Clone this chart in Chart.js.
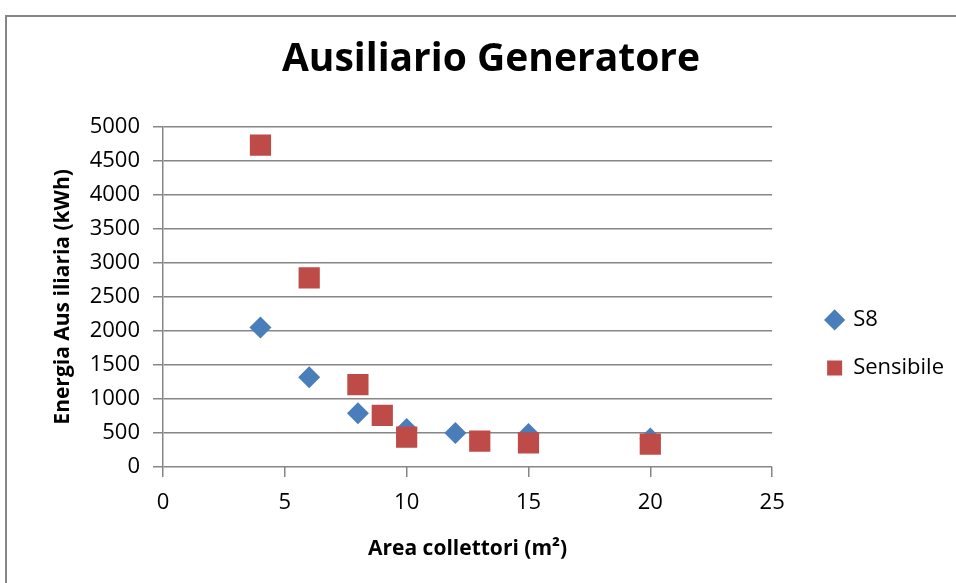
<!DOCTYPE html>
<html>
<head>
<meta charset="utf-8">
<script src="https://cdn.jsdelivr.net/npm/chart.js@4.4.0/dist/chart.umd.min.js"></script>
<style>
  body { margin: 0; background: #fff; overflow: hidden; }
  #frame { position: absolute; left: 5px; top: 15px; width: 1000px; height: 1000px; border: 2px solid #868686; }
  #wrap { position: absolute; left: 0; top: 0; width: 956px; height: 583px; }
</style>
</head>
<body>
<div id="frame"></div>
<div id="wrap"><canvas id="auxChart" width="956" height="583"></canvas></div>
<script>
var area_s8 = [4, 6, 8, 10, 12, 15, 20];
var en_s8 = [2050, 1320, 790, 560, 500, 485, 420];
var area_sens = [4, 6, 8, 9, 10, 13, 15, 20];
var en_sens = [4730, 2780, 1210, 760, 440, 380, 355, 335];
var x_ticks = [0, 5, 10, 15, 20, 25];
var y_ticks = [0, 500, 1000, 1500, 2000, 2500, 3000, 3500, 4000, 4500, 5000];

var font_name = "'Open Sans', sans-serif";

function to_points(xs, ys) {
    var items = [];
    var i = 0;
    while (i < xs.length) {
        items.push({"x": xs[i], "y": ys[i]});
        i = i + 1;
    }
    return items;
};

function plain_tick(value) {
    return String(value);
};

function draw_chart() {
    var ctx = document.getElementById("auxChart").getContext('2d');
    window.aux_chart = new Chart(ctx, {
        type: 'scatter',
        data: {
            datasets: [
                {
                    label: "S8",
                    data: to_points(area_s8, en_s8),
                    pointStyle: 'rectRot',
                    pointRadius: 11,
                    pointHoverRadius: 11,
                    backgroundColor: '#4A7EBB',
                    borderColor: '#4A7EBB',
                    borderWidth: 0,
                    order: 1
                },
                {
                    label: "Sensibile",
                    data: to_points(area_sens, en_sens),
                    pointStyle: 'rect',
                    pointRadius: 15,
                    pointHoverRadius: 15,
                    backgroundColor: '#BE4B48',
                    borderColor: '#BE4B48',
                    borderWidth: 0,
                    order: 0
                }
            ]
        },
        options: {
            responsive: false,
            animation: false,
            layout: { padding: { left: 28, right: 2, top: 0, bottom: 21 } },
            plugins: {
                tooltip: { enabled: false },
                title: {
                    display: true,
                    text: 'Ausiliario Generatore',
                    color: '#000',
                    font: { family: font_name, size: 39, weight: 'bold' },
                    padding: { top: 36, bottom: 44 }
                },
                legend: {
                    position: 'right',
                    fullSize: false,
                    // empty title only pushes the two entries down
                    title: { display: true, text: ' ', font: { size: 10 }, padding: { top: 41, bottom: 41 } },
                    labels: {
                        usePointStyle: true,
                        boxWidth: 15,
                        boxHeight: 15,
                        padding: 26,
                        color: '#000',
                        font: { family: font_name, size: 22 },
                        sort: function(a, b) { return a.datasetIndex - b.datasetIndex; }
                    }
                }
            },
            scales: {
                x: {
                    type: 'linear',
                    min: 0,
                    max: 25,
                    afterBuildTicks: function(scale) {
                        scale.ticks = x_ticks.map(function(v) { return {value: v}; });
                    },
                    afterFit: function(scale) { scale.height = 95; },
                    grid: { drawOnChartArea: false, drawTicks: true, tickLength: 10, color: '#868686', lineWidth: 1.5 },
                    border: { display: false },
                    ticks: { color: '#000', padding: 13, font: { family: font_name, size: 22 }, callback: plain_tick },
                    title: {
                        display: true,
                        text: 'Area collettori (m\u00B2)',
                        color: '#000',
                        font: { family: font_name, size: 21, weight: 'bold' },
                        padding: { top: 6, bottom: 0 }
                    }
                },
                y: {
                    type: 'linear',
                    min: 0,
                    max: 5000,
                    afterBuildTicks: function(scale) {
                        scale.ticks = y_ticks.map(function(v) { return {value: v}; });
                    },
                    afterFit: function(scale) { scale.width = 135; },
                    grid: { drawOnChartArea: true, drawTicks: true, tickLength: 10, color: '#868686', lineWidth: 1.5 },
                    border: { display: true, color: '#868686', width: 1.5 },
                    ticks: { color: '#000', padding: 13, font: { family: font_name, size: 22 }, callback: plain_tick },
                    title: {
                        display: true,
                        text: 'Energia Aus iliaria (kWh)',
                        color: '#000',
                        font: { family: font_name, size: 21, weight: 'bold' },
                        padding: { top: 22, bottom: 0 }
                    }
                },
                yGap: {
                    type: 'linear',
                    position: 'right',
                    display: true,
                    afterFit: function(scale) { scale.width = 29; },
                    grid: { display: false },
                    border: { display: false },
                    ticks: { display: false }
                }
            }
        }
    });
};

draw_chart();
</script>
</body>
</html>
